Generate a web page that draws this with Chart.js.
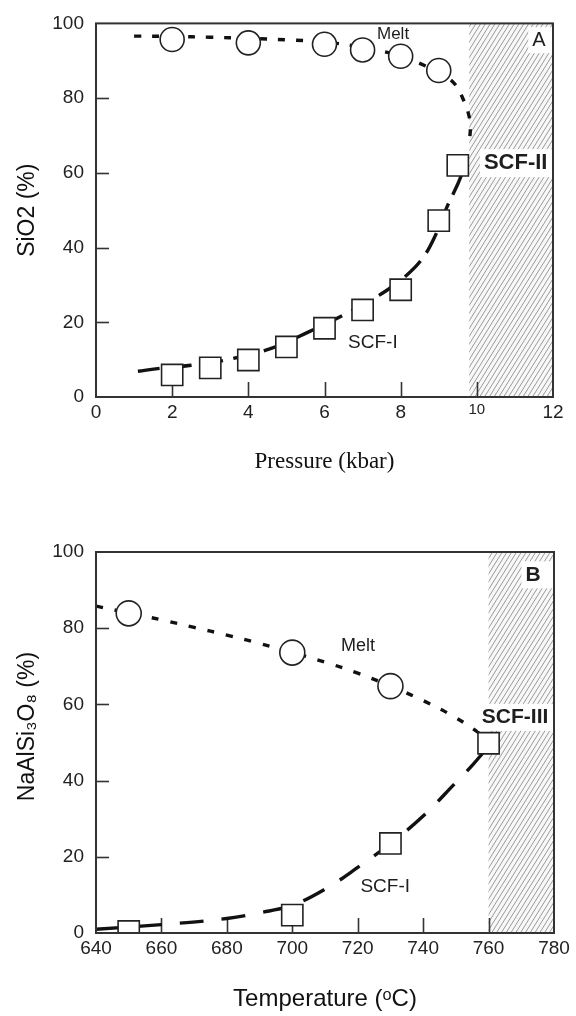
<!DOCTYPE html>
<html>
<head>
<meta charset="utf-8">
<script src="https://cdn.jsdelivr.net/npm/chart.js@4.4.1/dist/chart.umd.min.js"></script>
<style>
  html, body { margin: 0; padding: 0; background: #fff; }
  #wrapA { position: absolute; left: 0; top: 0; width: 576px; height: 500px; }
  #wrapB { position: absolute; left: 0; top: 500px; width: 576px; height: 516px; }
</style>
</head>
<body>
<div id="wrapA"><canvas id="chartA" width="576" height="500"></canvas></div>
<div id="wrapB"><canvas id="chartB" width="576" height="516"></canvas></div>
<script>
// -------------------------------
// Panel A data: SiO2 vs pressure
// -------------------------------
const pressureMelt = [2, 4, 6, 7, 8, 9];
const sio2Melt = [95.7, 94.8, 94.4, 92.9, 91.2, 87.4];
const pressureScf = [2, 3, 4, 5, 6, 7, 8, 9, 9.5];
const sio2Scf = [5.9, 7.8, 9.9, 13.4, 18.4, 23.3, 28.7, 47.2, 62];
// hand-drawn trend curves
const meltCurveAx = [1, 2, 3, 4, 5, 6, 7, 8, 8.5, 9, 9.4, 9.65, 9.8, 9.83, 9.8];
const meltCurveAy = [96.6, 96.5, 96.3, 96, 95.6, 95, 93.6, 91.3, 89.3, 86.8, 84, 79.5, 75, 72, 68];
const scfCurveAx = [1.1, 1.7, 2.5, 3.5, 4.6, 5.6, 6.6, 7.6, 8.2, 8.6, 8.9, 9.2, 9.5, 9.62];
const scfCurveAy = [6.9, 7.7, 8.5, 10.1, 13, 17.5, 22.5, 28.3, 33, 37.5, 43, 50.5, 57, 60];
const pressureTicks = [0, 2, 4, 6, 8, 10, 12];
const hatchStartA = 9.8;

// -----------------------------------------
// Panel B data: NaAlSi3O8 vs temperature
// -----------------------------------------
const tempMelt = [650, 700, 730];
const albMelt = [83.9, 73.6, 64.8];
const tempScf = [650, 700, 730, 760];
const albScf = [0.4, 4.7, 23.5, 49.8];
const meltCurveBx = [640, 650, 660, 670, 680, 690, 700, 710, 720, 730, 740, 750, 758];
const meltCurveBy = [85.8, 84, 82.2, 80.2, 78.2, 76, 73.6, 71.1, 68.2, 64.8, 61, 56.5, 52];
const scfCurveBx = [640, 660, 680, 690, 700, 710, 720, 730, 740, 750, 755, 759];
const scfCurveBy = [1, 2.2, 3.8, 5.3, 7.3, 11.5, 17.2, 23.5, 30.7, 39.5, 44, 48];
const tempTicks = [640, 660, 680, 700, 720, 740, 760, 780];
const hatchStartB = 760;

const percentTicks = [0, 20, 40, 60, 80, 100];

const SANS = '"Liberation Sans", Arial, Helvetica, sans-serif';
const SERIF = '"Liberation Serif", "Times New Roman", serif';
const INK = '#1e1e1e';

function zip(xs, ys) {
    let out = [];
    for (let i = 0; i < xs.length; i++) {
        out.push({x: xs[i], y: ys[i]});
    }
    return out;
}

// ---------------------------------------------------
// Plugin: hatch band, inward tick marks, box, labels
// ---------------------------------------------------
const framePlugin = {
    id: 'frame',
    beforeDatasetsDraw(chart, args, opts) {
        const ctx = chart.ctx;
        const a = chart.chartArea;
        const xs = chart.scales.x, ys = chart.scales.y;

        // hatched supercritical field
        const hx = xs.getPixelForValue(opts.hatchFrom);
        const h = a.bottom - a.top;
        ctx.save();
        ctx.beginPath();
        ctx.rect(hx, a.top, a.right - hx, h);
        ctx.clip();
        ctx.fillStyle = '#f8f8f8';
        ctx.fillRect(hx, a.top, a.right - hx, h);
        ctx.strokeStyle = '#9a9a9a';
        ctx.lineWidth = 1;
        for (let k = hx - h; k < a.right + 5; k += 4.8) {
            ctx.beginPath();
            ctx.moveTo(k, a.bottom);
            ctx.lineTo(k + h * 0.62, a.top);
            ctx.stroke();
        }
        ctx.restore();

        // tick marks pointing into the plot
        ctx.save();
        ctx.strokeStyle = '#333';
        ctx.lineWidth = 1.6;
        opts.xMarks.forEach(function (v) {
            const px = Math.round(xs.getPixelForValue(v)) + 0.5;
            ctx.beginPath();
            ctx.moveTo(px, a.bottom);
            ctx.lineTo(px, a.bottom - 15);
            ctx.stroke();
        });
        opts.yMarks.forEach(function (v) {
            const py = Math.round(ys.getPixelForValue(v)) + 0.5;
            ctx.beginPath();
            ctx.moveTo(a.left, py);
            ctx.lineTo(a.left + 13, py);
            ctx.stroke();
        });
        ctx.restore();
    },
    afterDatasetsDraw(chart, args, opts) {
        const ctx = chart.ctx;
        const a = chart.chartArea;
        const xs = chart.scales.x, ys = chart.scales.y;

        opts.labels.forEach(function (lb) {
            const px = xs.getPixelForValue(lb.x);
            const py = ys.getPixelForValue(lb.y);
            ctx.save();
            ctx.font = (lb.bold ? 'bold ' : '') + lb.size + 'px ' + SANS;
            ctx.textAlign = 'center';
            ctx.textBaseline = 'middle';
            if (lb.box) {
                const w = ctx.measureText(lb.text).width;
                const left = px - w / 2 - 4;
                ctx.fillStyle = '#ffffff';
                ctx.fillRect(left, py - lb.size / 2 - 3, a.right - left, lb.size + 6);
            }
            ctx.fillStyle = INK;
            ctx.fillText(lb.text, px, py);
            ctx.restore();
        });

        // plot frame
        ctx.save();
        ctx.strokeStyle = '#333';
        ctx.lineWidth = 2;
        ctx.strokeRect(a.left, a.top, a.right - a.left, a.bottom - a.top);
        ctx.restore();
    }
};

function markerSet(data, style, radius) {
    return {
        data: data,
        pointStyle: style,
        pointRadius: radius,
        pointBackgroundColor: '#ffffff',
        pointBorderColor: '#222',
        pointBorderWidth: 1.6,
        showLine: false
    };
}

function curveSet(data, dash) {
    return {
        data: data,
        showLine: true,
        pointRadius: 0,
        borderColor: '#111',
        borderWidth: 3.4,
        borderDash: dash,
        borderCapStyle: 'butt',
        tension: 0.4,
        fill: false
    };
}

function makeChart(id, cfg) {
    const canvas = document.getElementById(id);
    return new Chart(canvas.getContext('2d'), {
        type: 'scatter',
        data: {datasets: cfg.datasets},
        plugins: [framePlugin],
        options: {
            responsive: false,
            animation: false,
            layout: {padding: {top: cfg.top, right: cfg.right, left: 0, bottom: 0}},
            plugins: {
                legend: {display: false},
                tooltip: {enabled: false},
                frame: cfg.frame
            },
            scales: {
                x: {
                    type: 'linear',
                    min: cfg.xTicks[0],
                    max: cfg.xTicks[cfg.xTicks.length - 1],
                    afterBuildTicks: function (s) { s.ticks = cfg.xTicks.map(v => ({value: v})); },
                    afterFit: function (s) { s.height = cfg.xAxisHeight; },
                    grid: {display: false, drawTicks: false},
                    border: {display: false},
                    ticks: {
                        padding: 4,
                        maxRotation: 0,
                        autoSkip: false,
                        color: '#222',
                        font: cfg.xTickFont
                    },
                    title: {
                        display: true,
                        text: cfg.xTitle,
                        color: '#111',
                        font: cfg.xTitleFont,
                        padding: {top: 0, bottom: cfg.xTitlePad}
                    }
                },
                y: {
                    type: 'linear',
                    min: 0,
                    max: 100,
                    afterBuildTicks: function (s) { s.ticks = percentTicks.map(v => ({value: v})); },
                    afterFit: function (s) { s.width = 96; },
                    grid: {display: false, drawTicks: false},
                    border: {display: false},
                    ticks: {
                        padding: 12,
                        color: '#222',
                        font: {family: SANS, size: 19}
                    },
                    title: {
                        display: true,
                        text: cfg.yTitle,
                        color: '#111',
                        font: {family: SANS, size: 23},
                        padding: {top: 14, bottom: 0}
                    }
                }
            }
        }
    });
}

// -------------------------------
// Panel A
// -------------------------------
makeChart('chartA', {
    top: 16,
    right: 23,
    xAxisHeight: 103,
    xTicks: pressureTicks,
    xTickFont: function (c) {
        const small = c.tick && c.tick.value === 10;
        return {family: SANS, size: small ? 15 : 19};
    },
    xTitle: 'Pressure (kbar)',
    xTitleFont: {family: SERIF, size: 23},
    xTitlePad: 24,
    yTitle: 'SiO2 (%)',
    datasets: [
        markerSet(zip(pressureMelt, sio2Melt), 'circle', 12),
        markerSet(zip(pressureScf, sio2Scf), 'rect', 15),
        curveSet(zip(meltCurveAx, meltCurveAy), [7, 11]),
        curveSet(zip(scfCurveAx, scfCurveAy), [22, 10])
    ],
    frame: {
        hatchFrom: hatchStartA,
        xMarks: [2, 4, 6, 8, 10],
        yMarks: [20, 40, 60, 80],
        labels: [
            {text: 'Melt', x: 7.8, y: 97.1, size: 17},
            {text: 'SCF-I', x: 7.27, y: 14.5, size: 19},
            {text: 'SCF-II', x: 11.02, y: 62.6, size: 22, bold: true, box: true},
            {text: 'A', x: 11.63, y: 95.5, size: 20, box: true}
        ]
    }
});

// -------------------------------
// Panel B
// -------------------------------
makeChart('chartB', {
    top: 52,
    right: 22,
    xAxisHeight: 83,
    xTicks: tempTicks,
    xTickFont: {family: SANS, size: 19},
    xTitle: 'Temperature (\u1D52C)',
    xTitleFont: {family: SANS, size: 24},
    xTitlePad: 2,
    yTitle: '     NaAlSi\u2083O\u2088 (%)',
    datasets: [
        markerSet(zip(tempMelt, albMelt), 'circle', 12.5),
        markerSet(zip(tempScf, albScf), 'rect', 15),
        curveSet(zip(meltCurveBx, meltCurveBy), [7, 12]),
        curveSet(zip(scfCurveBx, scfCurveBy), [24, 18])
    ],
    frame: {
        hatchFrom: hatchStartB,
        xMarks: [660, 680, 700, 720, 740, 760],
        yMarks: [20, 40, 60, 80],
        labels: [
            {text: 'Melt', x: 720.1, y: 75.3, size: 18},
            {text: 'SCF-I', x: 728.4, y: 12.2, size: 19},
            {text: 'SCF-III', x: 768.1, y: 56.6, size: 21, bold: true, box: true},
            {text: 'B', x: 773.6, y: 94, size: 21, bold: true, box: true}
        ]
    }
});
</script>
</body>
</html>
